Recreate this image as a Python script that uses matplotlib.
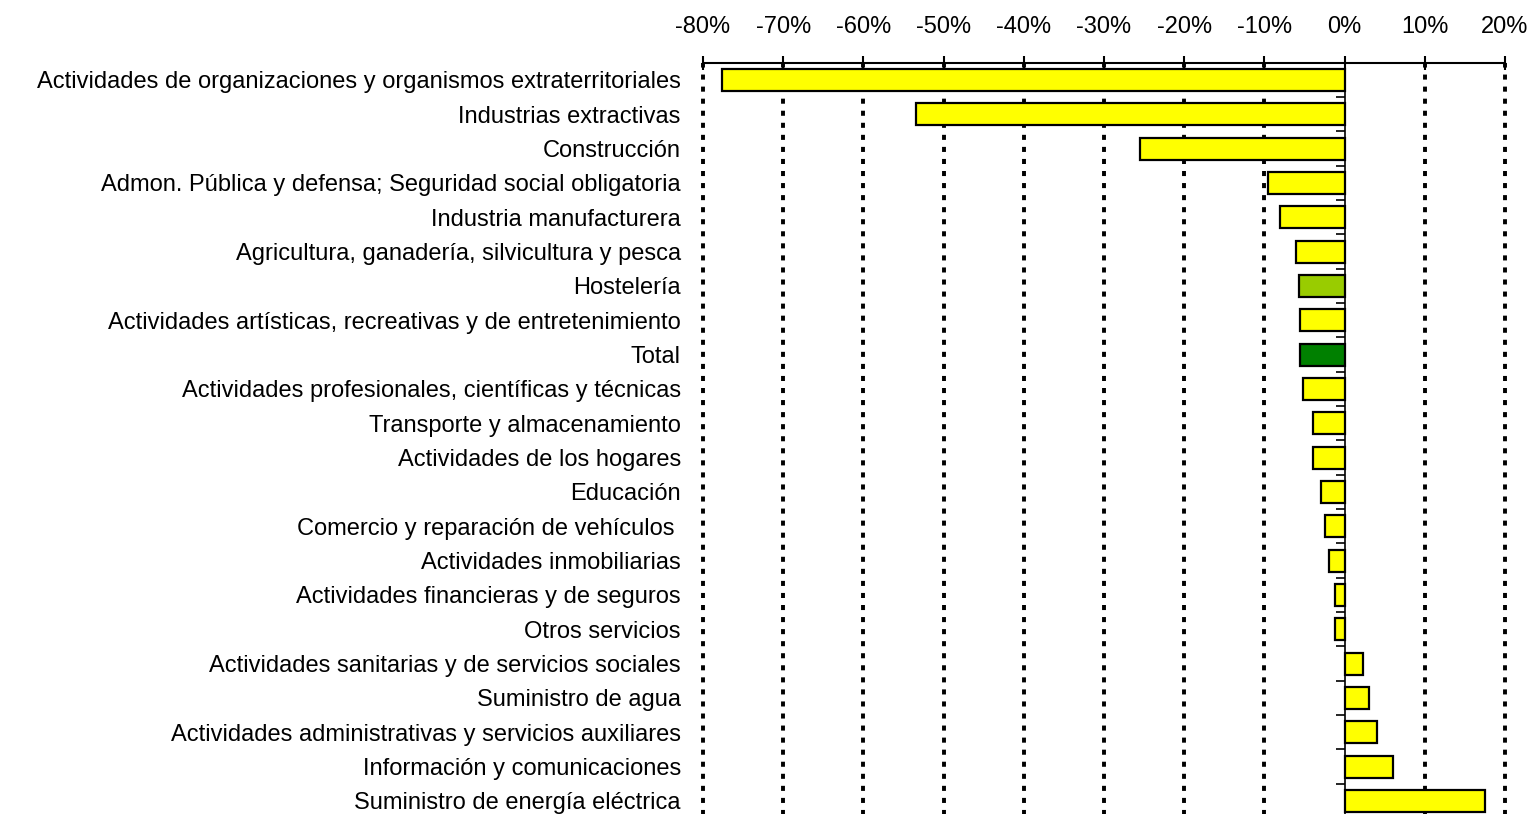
import matplotlib
matplotlib.use("Agg")
import matplotlib.pyplot as plt
import numpy as np

plt.rcParams['font.family'] = ['Liberation Sans', 'DejaVu Sans']

categories = [
    "Actividades de organizaciones y organismos extraterritoriales",
    "Industrias extractivas",
    "Construcción",
    "Admon. Pública y defensa; Seguridad social obligatoria",
    "Industria manufacturera",
    "Agricultura, ganadería, silvicultura y pesca",
    "Hostelería",
    "Actividades artísticas, recreativas y de entretenimiento",
    "Total",
    "Actividades profesionales, científicas y técnicas",
    "Transporte y almacenamiento",
    "Actividades de los hogares",
    "Educación",
    "Comercio y reparación de vehículos ",
    "Actividades inmobiliarias",
    "Actividades financieras y de seguros",
    "Otros servicios",
    "Actividades sanitarias y de servicios sociales",
    "Suministro de agua",
    "Actividades administrativas y servicios auxiliares",
    "Información y comunicaciones",
    "Suministro de energía eléctrica",
]
values = [-77.6, -53.4, -25.5, -9.5, -8.0, -6.0, -5.7, -5.5, -5.5, -5.2,
          -4.0, -4.0, -3.0, -2.5, -2.0, -1.25, -1.25, 2.3, 3.0, 4.0, 6.0, 17.5]
highlight = {"Hostelería": "#99CC00", "Total": "#008000"}
ticks = [-80, -70, -60, -50, -40, -30, -20, -10, 0, 10, 20]

colors = [highlight.get(c, "#FFFF00") for c in categories]
y = np.arange(len(categories))

fig = plt.figure(figsize=(15.31, 8.14), dpi=100)
ax = fig.add_axes([0.4592, -0.0051, 0.5238, 0.928])

# dotted gridlines (not at zero)
for t in ticks:
    if t != 0:
        ax.axvline(t, color="black", lw=2.8, linestyle=(0, (1.3, 1.8)),
                   zorder=1, clip_on=False)

ax.barh(y, values, height=0.64, color=colors, edgecolor="black", linewidth=1.6, zorder=3)

# zero axis with small ticks between categories
ax.axvline(0, color="black", lw=1.2, zorder=4)
ax.hlines(y[:-1] + 0.5, -1.1, 0, color="black", lw=1.2, zorder=4)

ax.set_xlim(-80, 20)
ax.set_ylim(len(categories) - 0.5, -0.5)
ax.set_xticks(ticks)
ax.set_xticklabels([f"{t}%" for t in ticks])
ax.xaxis.tick_top()
ax.tick_params(axis="x", direction="inout", length=10, width=1.5, pad=13, labelsize=17)
ax.set_yticks(y)
ax.set_yticklabels(categories)
ax.tick_params(axis="y", length=0, pad=16, labelsize=17)

for side in ["left", "right", "bottom"]:
    ax.spines[side].set_visible(False)
ax.spines["top"].set_linewidth(1.5)

fig.savefig("out.png", dpi=100)
